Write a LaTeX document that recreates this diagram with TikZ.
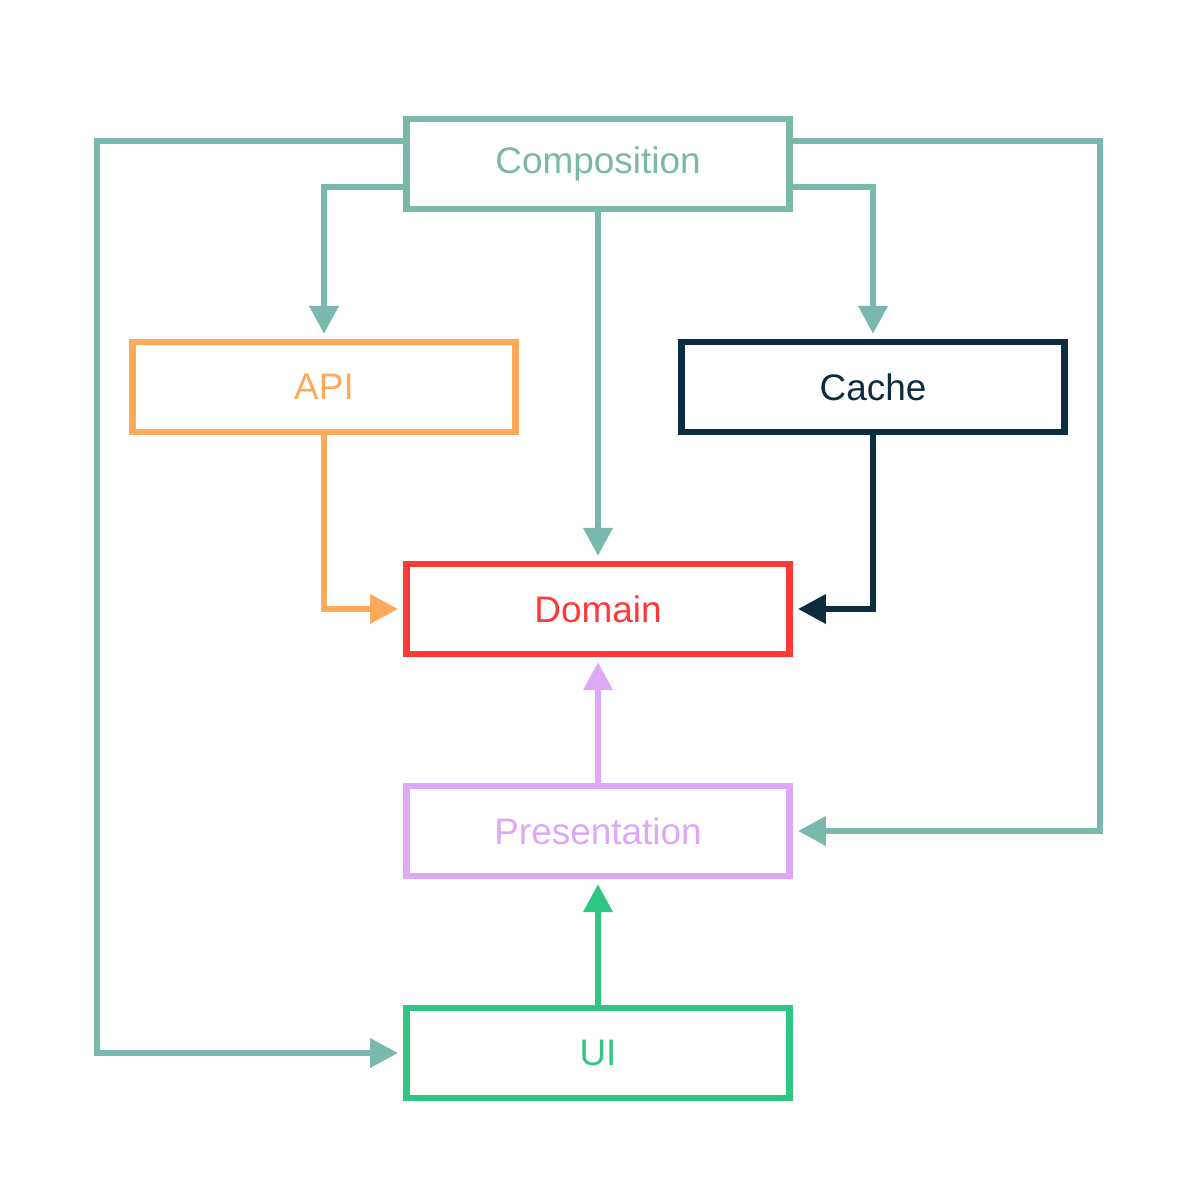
\documentclass[tikz,border=0pt]{standalone}
\usepackage{fontspec}
\setmainfont{Liberation Sans}
\usetikzlibrary{arrows.meta}
\definecolor{cteal}{HTML}{7AB8AB}
\definecolor{corange}{HTML}{FFAA5A}
\definecolor{cnavy}{HTML}{0C2D40}
\definecolor{cred}{HTML}{FF3838}
\definecolor{clilac}{HTML}{DDA8F8}
\definecolor{cgreen}{HTML}{2EC680}
\begin{document}
\begin{tikzpicture}[x=0.01cm,y=-0.01cm,
  layer/.style={draw=#1, text=#1, line width=0.065cm, minimum width=3.83cm, minimum height=0.895cm, inner sep=0pt, fill=white,
    font=\fontsize{10.5pt}{12pt}\selectfont},
  conn/.style={draw=#1, line width=0.065cm, -{Triangle[length=0.28cm,width=0.28cm]}, shorten >=0.05cm}
]
\useasboundingbox (0,0) rectangle (1200,1200);
\node[layer=cteal] (comp) at (598,164) {Composition};
\node[layer=corange] (api) at (324,387) {API};
\node[layer=cnavy] (cache) at (873,387) {Cache};
\node[layer=cred] (dom) at (598,609) {Domain};
\node[layer=clilac] (pres) at (598,831) {Presentation};
\node[layer=cgreen] (ui) at (598,1053) {UI};

\coordinate (lt) at (97,141);
\coordinate (rt) at (1100,141);

\draw[conn=cteal] (comp.west |- lt) -- (lt) |- (ui.west);
\draw[conn=cteal] (comp.east |- rt) -- (rt) |- (pres.east);
\draw[conn=cteal] (comp.west |- 0,187) -| (api.north);
\draw[conn=cteal] (comp.east |- 0,187) -| (cache.north);
\draw[conn=cteal] (comp.south) -- (dom.north);
\draw[conn=corange] (api.south) |- (dom.west);
\draw[conn=cnavy] (cache.south) |- (dom.east);
\draw[conn=clilac] (pres.north) -- (dom.south);
\draw[conn=cgreen] (ui.north) -- (pres.south);
\end{tikzpicture}
\end{document}
